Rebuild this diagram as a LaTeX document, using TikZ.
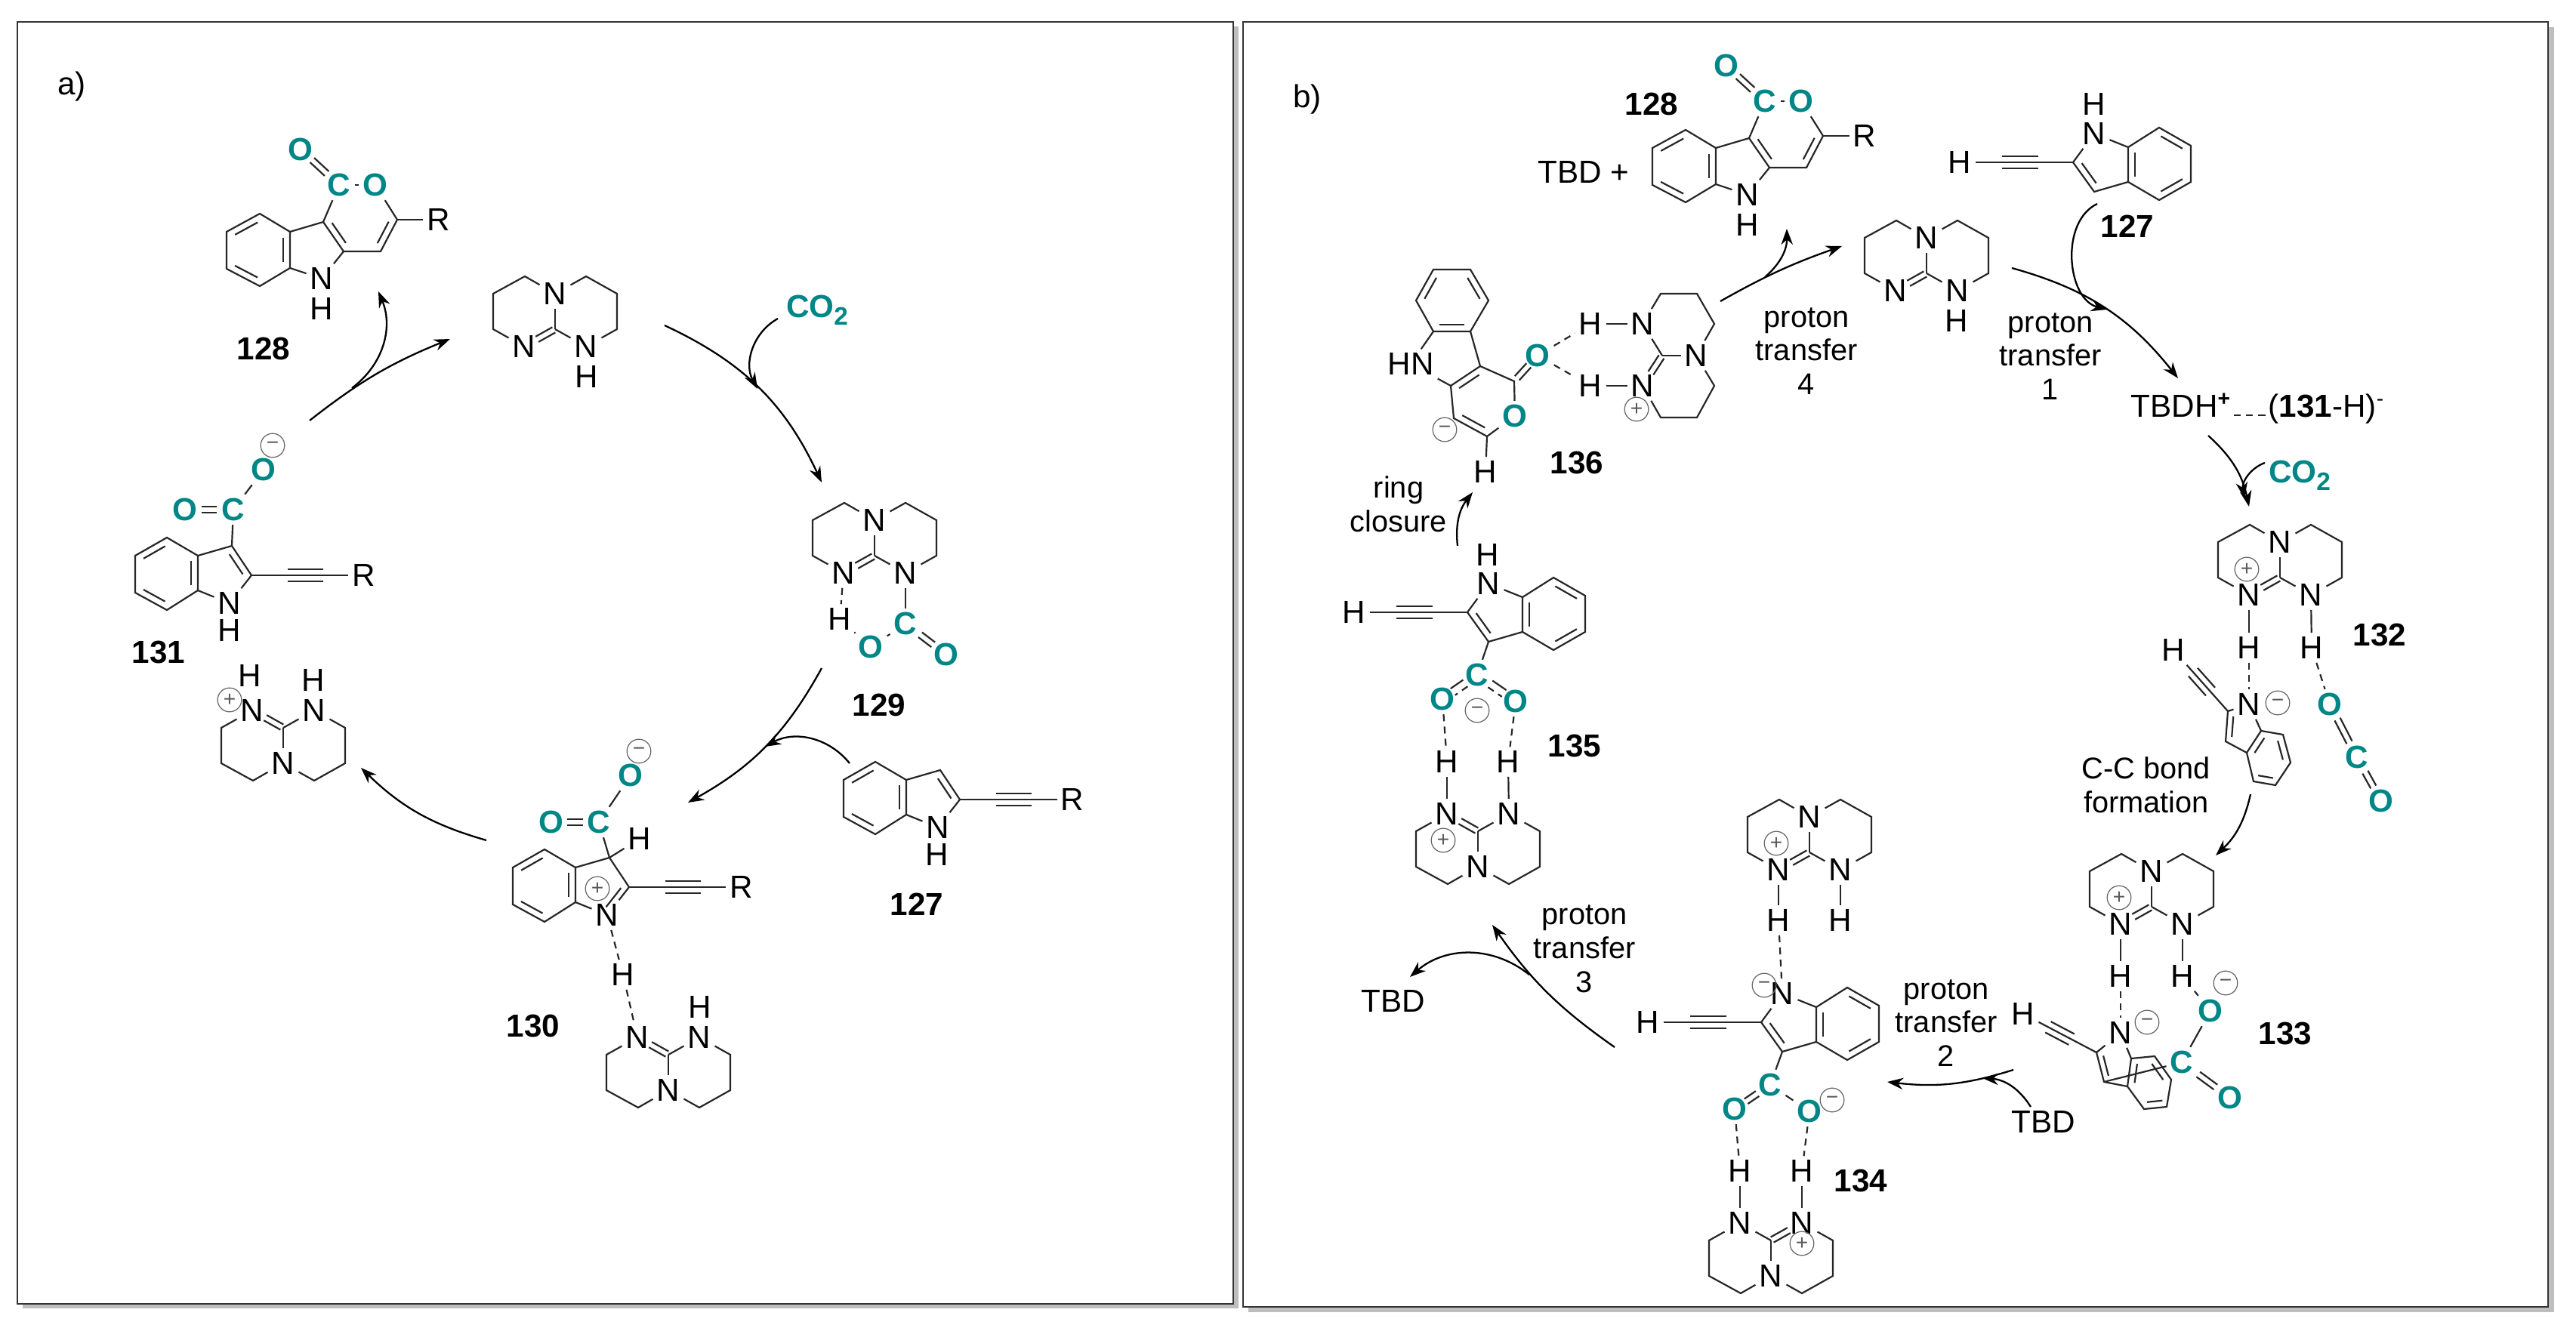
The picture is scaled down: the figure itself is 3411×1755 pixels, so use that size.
\documentclass[tikz,border=0pt]{standalone}
\usepackage{fontspec}
\setmainfont{Liberation Sans}
\usepackage{xcolor}
\usetikzlibrary{arrows.meta, calc}

\definecolor{cteal}{RGB}{0,134,134}
\definecolor{cshadow}{RGB}{190,190,190}

\tikzset{
    bond/.style={line width=0.62pt, draw=black!85},
    hbond/.style={line width=0.62pt, draw=black!85, dash pattern=on 2.6pt off 2pt},
    rxn/.style={line width=0.65pt, -{Stealth[length=6pt,width=4.4pt]}},
    atom/.style={font=\fontsize{12}{12}\selectfont, inner sep=1.5pt, outer sep=0pt},
    atomc/.style={atom, font=\fontsize{12}{12}\selectfont\bfseries, text=cteal},
    charge/.style={circle, draw=black!60, line width=0.35pt, inner sep=0pt, minimum size=9pt,
        font=\fontsize{8}{8}\selectfont, text=black!65},
    cmpd/.style={font=\fontsize{12}{12}\selectfont\bfseries, inner sep=0pt},
    lab/.style={font=\fontsize{11.3}{12.7}\selectfont, align=center, inner sep=0pt},
    txt/.style={font=\fontsize{12}{12}\selectfont, inner sep=0pt},
    panel/.style={draw=black!80, fill=white, line width=0.7pt},
}

% one offset line beside a bond
\newcommand{\offl}[6][bond]{\draw[#1] ($(#2)!#4!(#3)!#6!90:(#3)$) -- ($(#2)!#5!(#3)!#6!90:(#3)$);}
% double bond, two lines around the axis
\newcommand{\dbl}[4]{\offl{#1}{#2}{#3}{#4}{1.15pt}\offl{#1}{#2}{#3}{#4}{-1.15pt}}
% inner line of a ring
\newcommand{\inn}[3]{\offl{#1}{#2}{.16}{.84}{#3}}
% triple bond, the axis is drawn by the caller
\newcommand{\trip}[4]{\draw[bond] (#1) -- (#2);\offl{#1}{#2}{#3}{#4}{2.3pt}\offl{#1}{#2}{#3}{#4}{-2.3pt}}
% benzene ring, corners in clockwise order
\newcommand{\benzpts}[7]{\coordinate (#11) at (#2);\coordinate (#12) at (#3);\coordinate (#13) at (#4);
    \coordinate (#14) at (#5);\coordinate (#15) at (#6);\coordinate (#16) at (#7);}
\newcommand{\benzlines}[1]{\draw[bond] (#11) -- (#12) -- (#13) -- (#14) -- (#15) -- (#16) -- cycle;
    \inn{#11}{#12}{-2.5pt}\inn{#13}{#14}{-2.5pt}\inn{#15}{#16}{-2.5pt}}
\newcommand{\benz}[7]{\benzpts{#1}{#2}{#3}{#4}{#5}{#6}{#7}\benzlines{#1}}
% carbon dioxide label
\newcommand{\cotwo}{CO\raisebox{-0.45ex}{\fontsize{9.5}{9.5}\selectfont 2}}

% TBD skeleton: name, x, y of the central carbon, flip (1 or -1)
\newcommand{\tbdring}[4]{%
    \begin{scope}[shift={(#2,#3)},yscale=#4]
        \node[atom] (#1a) at (0,-47) {N};
        \node[atom] (#1b) at (-41,23) {N};
        \node[atom] (#1c) at (41,23) {N};
        \coordinate (#1o) at (0,0);
        \draw[bond] (#1a) -- (-40,-70) -- (-82,-47) -- (-82,0) -- (#1b);
        \draw[bond] (#1a) -- (41,-70) -- (82,-47) -- (82,0) -- (#1c);
        \draw[bond] (#1o) -- (#1a);
    \end{scope}}
% which nitrogen carries the single bond
\newcommand{\tbddbl}[2]{\draw[bond] (#1o) -- (#1#2);}

% indole with the alkyne to the right: name, x, y of C2
\newcommand{\indoleR}[3]{%
    \begin{scope}[shift={(#2,#3)}]
        \node[atom] (#1n) at (-29,37) {N};
        \node[atom] (#1r) at (149,0) {R};
        \coordinate (#1c) at (0,0);
        \coordinate (#1d) at (-26,-39);
        \benzpts{#1x}{-154,-26}{-112,-50}{-71,-26}{-71,20}{-112,46}{-154,23}
    \end{scope}
    \benzlines{#1x}
    \draw[bond] (#1x3) -- (#1d) -- (#1c) -- (#1n) -- (#1x4);
    \trip{#1c}{#1r}{.32}{.64}}

% indole with the alkyne to the left, ending in H: name, x, y of C2
\newcommand{\indoleL}[3]{%
    \begin{scope}[shift={(#2,#3)}]
        \node[atom] (#1n) at (28,-38) {N};
        \node[atom] (#1h) at (-150,0) {H};
        \coordinate (#1c) at (0,0);
        \coordinate (#1d) at (28,39);
        \benzpts{#1x}{114,-46}{156,-22}{156,26}{114,50}{73,26}{73,-20}
    \end{scope}
    \benzlines{#1x}
    \draw[bond] (#1x6) -- (#1n) -- (#1c) -- (#1d) -- (#1x5);
    \inn{#1c}{#1d}{2.5pt}
    \trip{#1h}{#1c}{.37}{.69}}

% pyrano-indolone: name, shift
\newcommand{\pyrindole}[3]{%
    \begin{scope}[shift={(#2,#3)}]
        \node[atom] (#1n) at (426,369) {N};
        \node[atom] (#1h) at (426,409) {H};
        \node[atomc] (#1o) at (398,198) {O};
        \node[atomc] (#1c) at (449,245) {C};
        \node[atomc] (#1p) at (497,245) {O};
        \node[atom] (#1r) at (581,291) {R};
        \coordinate (#1a) at (428,294);
        \coordinate (#1b) at (455,333);
        \coordinate (#1d) at (504,333);
        \coordinate (#1e) at (526,291);
        \benzpts{#1x}{300,307}{344,283}{384,307}{384,355}{344,379}{300,356}
    \end{scope}
    \benzlines{#1x}
    \draw[bond] (#1x3) -- (#1a) -- (#1c);
    \draw[bond] (#1p) -- (#1c);
    \draw[bond] (#1p) -- (#1e) -- (#1d) -- (#1b) -- (#1a);
    \draw[bond] (#1b) -- (#1n) -- (#1x4);
    \draw[bond] (#1e) -- (#1r);
    \dbl{#1o}{#1c}{.3}{.68}
    \inn{#1a}{#1b}{2.5pt}
    \inn{#1e}{#1d}{-2.5pt}}

\begin{document}
\begin{tikzpicture}[x=0.01cm,y=-0.01cm]
    \useasboundingbox (0,0) rectangle (3411,1755);

    % Panels
    \fill[cshadow] (30,35) rectangle (1640,1733);
    \draw[panel] (23,29) rectangle (1633,1727);
    \fill[cshadow] (1653,36) rectangle (3382,1738);
    \draw[panel] (1646,29) rectangle (3374,1731);
    \node[txt] (tagA) at (95,115) {a)};
    \node[txt] (tagB) at (1731,132) {b)};

    % ---- Panel a ----
    % 128
    \pyrindole{Aq}{0}{0}
    \node[cmpd] (A128) at (349,462) {128};

    % free TBD
    \tbdring{At}{735}{436}{1}
    \dbl{Atb}{Ato}{.42}{.96}
    \tbddbl{At}{c}
    \node[atom] (Ath) at (777,499) {H};

    % 129
    \tbdring{Ab}{1158}{736}{1}
    \dbl{Abb}{Abo}{.42}{.96}
    \tbddbl{Ab}{c}
    \node[atom] (Abh) at (1112,820) {H};
    \node[atomc] (Abk) at (1199,826) {C};
    \node[atomc] (Abp) at (1153,857) {O};
    \node[atomc] (Abq) at (1253,867) {O};
    \draw[bond] (Abc) -- (Abk);
    \draw[bond] (Abk) -- (Abp);
    \draw[bond] (Abp) -- (Abh);
    \draw[hbond] (Abb) -- (Abh);
    \dbl{Abk}{Abq}{.36}{.68}
    \node[cmpd] (A129) at (1164,934) {129};

    % 127
    \indoleR{Ai}{1271}{1059}
    \inn{Aid}{Aic}{-2.5pt}
    \node[atom] (Aih) at (1241,1132) {H};
    \node[cmpd] (A127) at (1214,1198) {127};

    % 130
    \indoleR{Ac}{833}{1175}
    \inn{Acc}{Acn}{-2.2pt}
    \node[atomc] (Ack) at (793,1089) {C};
    \node[atomc] (Aco) at (730,1089) {O};
    \node[atomc] (Acp) at (835,1027) {O};
    \node[atom] (Ach) at (847,1111) {H};
    \node[charge] (Acm) at (846,995) {−};
    \node[charge] (Acq) at (791,1177) {+};
    \draw[bond] (Acd) -- (Ack);
    \draw[bond] (Acd) -- (Ach);
    \draw[bond] (Ack) -- (Acp);
    \dbl{Aco}{Ack}{.34}{.66}
    \node[atom] (Acj) at (825,1291) {H};
    \draw[hbond] (Acn) -- (Acj);
    \tbdring{Ad}{885}{1397}{-1}
    \dbl{Adb}{Ado}{.42}{.96}
    \tbddbl{Ad}{c}
    \node[atom] (Adh) at (927,1334) {H};
    \draw[hbond] (Acj) -- (Adb);
    \node[cmpd] (A130) at (706,1359) {130};

    % protonated TBD
    \tbdring{Ae}{375}{964}{-1}
    \dbl{Aeb}{Aeo}{.42}{.96}
    \tbddbl{Ae}{c}
    \node[atom] (Aeh) at (331,895) {H};
    \node[atom] (Aej) at (415,901) {H};
    \node[charge] (Aeq) at (304,927) {+};

    % 131
    \indoleR{Af}{333}{762}
    \inn{Afd}{Afc}{-2.5pt}
    \node[atom] (Afh) at (304,835) {H};
    \node[atomc] (Afk) at (309,675) {C};
    \node[atomc] (Afo) at (245,675) {O};
    \node[atomc] (Afp) at (349,622) {O};
    \node[charge] (Afm) at (361,590) {−};
    \draw[bond] (Afd) -- (Afk);
    \draw[bond] (Afk) -- (Afp);
    \dbl{Afo}{Afk}{.34}{.66}
    \node[cmpd] (A131) at (210,864) {131};

    \node[atomc] (Aco2) at (1082,411) {\cotwo};

    % Arrows of panel a
    \coordinate (Ar1) at (410,557);
    \coordinate (Ar2) at (596,449);
    \coordinate (Ar3) at (466,514);
    \coordinate (Ar4) at (501,386);
    \coordinate (Ar5) at (880,431);
    \coordinate (Ar6) at (1088,639);
    \coordinate (Ar7) at (1030,422);
    \coordinate (Ar8) at (1003,515);
    \coordinate (Ar9) at (1088,885);
    \coordinate (Ar10) at (911,1063);
    \coordinate (Ar11) at (1125,1011);
    \coordinate (Ar12) at (1013,989);
    \coordinate (Ar13) at (644,1113);
    \coordinate (Ar14) at (478,1017);
    \draw[rxn] (Ar1) to[bend left=8] (Ar2);
    \draw[rxn] (Ar3) to[bend right=38] (Ar4);
    \draw[rxn] (Ar5) to[bend left=20] (Ar6);
    \draw[rxn] (Ar7) to[bend right=45] (Ar8);
    \draw[rxn] (Ar9) to[bend left=16] (Ar10);
    \draw[rxn] (Ar11) to[bend right=40] (Ar12);
    \draw[rxn] (Ar13) to[bend left=14] (Ar14);

    % ---- Panel b ----
    % 128 and TBD
    \pyrindole{Bq}{1888}{-111}
    \node[cmpd] (B128) at (2187,138) {128};
    \node[txt] (Btbd) at (2097,228) {TBD +};

    % free TBD
    \tbdring{Bt}{2551}{362}{1}
    \dbl{Btb}{Bto}{.42}{.96}
    \tbddbl{Bt}{c}
    \node[atom] (Bth) at (2591,425) {H};

    % 127
    \indoleL{Bi}{2745}{215}
    \node[atom] (Bik) at (2773,138) {H};
    \node[cmpd] (B127) at (2817,300) {127};

    % ion pair
    \node[txt, anchor=base west] (Bion) at (2821,553) {TBDH\textsuperscript{\textbf{+}}};
    \node[txt, anchor=base west] (Bani) at (3003,553) {(\textbf{131}-H)\textsuperscript{-}};
    \coordinate (Bio1) at (2958,550);
    \coordinate (Bio2) at (3003,550);
    \draw[hbond] (Bio1) -- (Bio2);

    % 132
    \tbdring{Bb}{3019}{765}{1}
    \dbl{Bbb}{Bbo}{.42}{.96}
    \tbddbl{Bb}{c}
    \node[charge] (Bbq) at (2975,754) {+};
    \node[atom] (Bbh) at (2978,858) {H};
    \node[atom] (Bbj) at (3061,858) {H};
    \draw[bond] (Bbb) -- (Bbh);
    \draw[bond] (Bbc) -- (Bbj);
    \node[cmpd] (B132) at (3151,841) {132};
    \node[atom] (Bcn) at (2978,933) {N};
    \node[atom] (Bch) at (2878,861) {H};
    \node[charge] (Bcm) at (3016,931) {−};
    \coordinate (Bcc) at (2950,942);
    \coordinate (Bcd) at (2947,982);
    \benz{Bcx}{3023,973}{3033,1010}{3013,1040}{2984,1035}{2975,997}{2994,968}
    \draw[bond] (Bcx6) -- (Bcn) -- (Bcc) -- (Bcd) -- (Bcx5);
    \inn{Bcc}{Bcd}{2.2pt}
    \trip{Bch}{Bcc}{.36}{.68}
    \draw[hbond] (Bbh) -- (Bcn);
    \node[atomc] (Bco) at (3085,933) {O};
    \node[atomc] (Bck) at (3121,1003) {C};
    \node[atomc] (Bcp) at (3153,1061) {O};
    \draw[hbond] (Bbj) -- (Bco);
    \dbl{Bco}{Bck}{.28}{.72}
    \dbl{Bck}{Bcp}{.34}{.68}

    % 133
    \tbdring{Bd}{2849}{1201}{1}
    \dbl{Bdb}{Bdo}{.42}{.96}
    \tbddbl{Bd}{c}
    \node[charge] (Bdq) at (2806,1189) {+};
    \node[atom] (Bdh) at (2808,1293) {H};
    \node[atom] (Bdj) at (2890,1293) {H};
    \draw[bond] (Bdb) -- (Bdh);
    \draw[bond] (Bdc) -- (Bdj);
    \node[atom] (Ben) at (2808,1368) {N};
    \node[atom] (Beh) at (2679,1343) {H};
    \node[charge] (Bem) at (2843,1354) {−};
    \coordinate (Bec) at (2776,1394);
    \coordinate (Bed) at (2786,1433);
    \benz{Bex}{2853,1399}{2875,1430}{2869,1466}{2839,1469}{2817,1439}{2822,1402}
    \draw[bond] (Bex6) -- (Ben) -- (Bec) -- (Bed) -- (Bex5);
    \inn{Bec}{Bed}{2.2pt}
    \trip{Beh}{Bec}{.34}{.66}
    \draw[hbond] (Bdh) -- (Ben);
    \node[atomc] (Bek) at (2889,1407) {C};
    \node[atomc] (Bep) at (2927,1339) {O};
    \node[atomc] (Beo) at (2953,1454) {O};
    \node[charge] (Beq) at (2947,1302) {−};
    \draw[bond] (Bed) -- (Bek);
    \draw[bond] (Bek) -- (Bep);
    \draw[bond] (Bep) -- (Bdj);
    \dbl{Bek}{Beo}{.34}{.7}
    \node[cmpd] (B133) at (3026,1369) {133};

    % 134
    \tbdring{Bf}{2396}{1129}{1}
    \dbl{Bfb}{Bfo}{.42}{.96}
    \tbddbl{Bf}{c}
    \node[charge] (Bfq) at (2352,1117) {+};
    \node[atom] (Bfh) at (2355,1219) {H};
    \node[atom] (Bfj) at (2437,1219) {H};
    \draw[bond] (Bfb) -- (Bfh);
    \draw[bond] (Bfc) -- (Bfj);
    \indoleL{Bg}{2332}{1354}
    \node[charge] (Bgm) at (2336,1305) {−};
    \draw[hbond] (Bfh) -- (Bgn);
    \node[atomc] (Bgk) at (2344,1437) {C};
    \node[atomc] (Bgo) at (2297,1469) {O};
    \node[atomc] (Bgp) at (2396,1472) {O};
    \node[charge] (Bgq) at (2426,1457) {−};
    \draw[bond] (Bgd) -- (Bgk);
    \draw[bond] (Bgk) -- (Bgp);
    \dbl{Bgk}{Bgo}{.36}{.68}
    \node[atom] (Bgh) at (2304,1551) {H};
    \node[atom] (Bgj) at (2386,1551) {H};
    \draw[hbond] (Bgo) -- (Bgh);
    \draw[hbond] (Bgp) -- (Bgj);
    \tbdring{Bk}{2345}{1643}{-1}
    \dbl{Bkc}{Bko}{.42}{.96}
    \tbddbl{Bk}{b}
    \node[charge] (Bkq) at (2386,1647) {+};
    \draw[bond] (Bkb) -- (Bgh);
    \draw[bond] (Bkc) -- (Bgj);
    \node[cmpd] (B134) at (2464,1564) {134};

    % 135
    \indoleL{Bm}{1943}{811}
    \node[atom] (Bmk) at (1970,735) {H};
    \node[atomc] (Bmc) at (1956,894) {C};
    \node[atomc] (Bmo) at (1910,926) {O};
    \node[atomc] (Bmp) at (2007,929) {O};
    \node[charge] (Bmm) at (1956,941) {−};
    \draw[bond] (Bmd) -- (Bmc);
    \offl{Bmc}{Bmo}{.34}{.7}{-1.5pt}
    \offl[hbond]{Bmc}{Bmo}{.34}{.7}{1.5pt}
    \offl{Bmc}{Bmp}{.34}{.7}{1.5pt}
    \offl[hbond]{Bmc}{Bmp}{.34}{.7}{-1.5pt}
    \node[atom] (Bmh) at (1916,1009) {H};
    \node[atom] (Bmj) at (1997,1009) {H};
    \draw[hbond] (Bmo) -- (Bmh);
    \draw[hbond] (Bmp) -- (Bmj);
    \tbdring{Bn}{1957}{1101}{-1}
    \dbl{Bnb}{Bno}{.42}{.96}
    \tbddbl{Bn}{c}
    \node[charge] (Bnq) at (1911,1113) {+};
    \draw[bond] (Bnb) -- (Bmh);
    \draw[bond] (Bnc) -- (Bmj);
    \node[cmpd] (B135) at (2085,988) {135};

    % 136
    \benz{Bpx}{1875,398}{1898,357}{1947,357}{1971,398}{1947,439}{1898,439}
    \node[atom] (Bpn) at (1868,482) {HN};
    \node[atomc] (Bpo) at (2036,471) {O};
    \node[atomc] (Bpp) at (2006,551) {O};
    \node[atom] (Bph) at (1967,625) {H};
    \node[charge] (Bpm) at (1913,569) {−};
    \coordinate (Bpa) at (1960,485);
    \coordinate (Bpb) at (1921,511);
    \coordinate (Bpc) at (2005,505);
    \coordinate (Bpd) at (1969,578);
    \coordinate (Bpe) at (1925,554);
    \draw[bond] (Bpx5) -- (Bpa) -- (Bpb) -- (Bpn) -- (Bpx6);
    \draw[bond] (Bpa) -- (Bpc) -- (Bpp) -- (Bpd) -- (Bpe) -- (Bpb);
    \draw[bond] (Bpd) -- (Bph);
    \inn{Bpa}{Bpb}{2.5pt}
    \inn{Bpd}{Bpe}{-2.5pt}
    \dbl{Bpc}{Bpo}{.12}{.62}
    \node[atom] (Bqh) at (2106,429) {H};
    \node[atom] (Bqj) at (2106,511) {H};
    \node[atom] (Bqn) at (2175,429) {N};
    \node[atom] (Bqm) at (2175,511) {N};
    \node[atom] (Bqr) at (2246,471) {N};
    \node[charge] (Bqq) at (2167,542) {+};
    \coordinate (Bqo) at (2201,471);
    \draw[bond] (Bqn) -- (2199,389) -- (2247,389) -- (2270,429) -- (Bqr);
    \draw[bond] (Bqr) -- (2270,511) -- (2247,553) -- (2199,553) -- (Bqm);
    \draw[bond] (Bqn) -- (Bqo);
    \draw[bond] (Bqo) -- (Bqr);
    \dbl{Bqm}{Bqo}{.42}{.96}
    \draw[bond] (Bqh) -- (Bqn);
    \draw[bond] (Bqj) -- (Bqm);
    \draw[hbond] (Bpo) -- (Bqh);
    \draw[hbond] (Bpo) -- (Bqj);
    \node[cmpd] (B136) at (2088,613) {136};

    % Step labels
    \node[lab] (Bs1) at (2715,472) {proton\\transfer\\1};
    \node[lab] (Bs2) at (2577,1355) {proton\\transfer\\2};
    \node[lab] (Bs3) at (2098,1257) {proton\\transfer\\3};
    \node[lab] (Bs4) at (2392,465) {proton\\transfer\\4};
    \node[lab] (Bs5) at (1852,668) {ring\\closure};
    \node[lab] (Bs6) at (2842,1040) {C-C bond\\formation};
    \node[txt] (Btb2) at (2706,1486) {TBD};
    \node[txt] (Btb3) at (1845,1326) {TBD};
    \node[atomc] (Bco2) at (3045,630) {\cotwo};

    % Arrows of panel b
    \coordinate (Br1) at (2278,399);
    \coordinate (Br2) at (2439,326);
    \coordinate (Br3) at (2337,367);
    \coordinate (Br4) at (2366,303);
    \coordinate (Br5) at (2664,355);
    \coordinate (Br6) at (2884,501);
    \coordinate (Br7) at (2777,270);
    \coordinate (Br8) at (2790,410);
    \coordinate (Br9) at (2924,577);
    \coordinate (Br10) at (2978,671);
    \coordinate (Br11) at (2999,613);
    \coordinate (Br12) at (2972,660);
    \coordinate (Br13) at (2980,1052);
    \coordinate (Br14) at (2934,1133);
    \coordinate (Br15) at (2666,1417);
    \coordinate (Br16) at (2499,1433);
    \coordinate (Br17) at (2689,1466);
    \coordinate (Br18) at (2625,1428);
    \coordinate (Br19) at (2138,1387);
    \coordinate (Br20) at (1976,1225);
    \coordinate (Br21) at (2025,1291);
    \coordinate (Br22) at (1867,1294);
    \coordinate (Br23) at (1930,723);
    \coordinate (Br24) at (1950,652);
    \draw[rxn] (Br1) to[bend left=5] (Br2);
    \draw[rxn] (Br3) to[bend right=25] (Br4);
    \draw[rxn] (Br5) to[bend left=18] (Br6);
    \draw[rxn] (Br7) to[bend right=70] (Br8);
    \draw[rxn] (Br9) to[bend left=18] (Br10);
    \draw[rxn] (Br11) to[bend right=40] (Br12);
    \draw[rxn] (Br13) to[bend left=17] (Br14);
    \draw[rxn] (Br15) to[bend left=12] (Br16);
    \draw[rxn] (Br17) to[bend right=27] (Br18);
    \draw[rxn] (Br19) to[bend left=10] (Br20);
    \draw[rxn] (Br21) to[bend right=40] (Br22);
    \draw[rxn] (Br23) to[bend left=22] (Br24);
\end{tikzpicture}
\end{document}
